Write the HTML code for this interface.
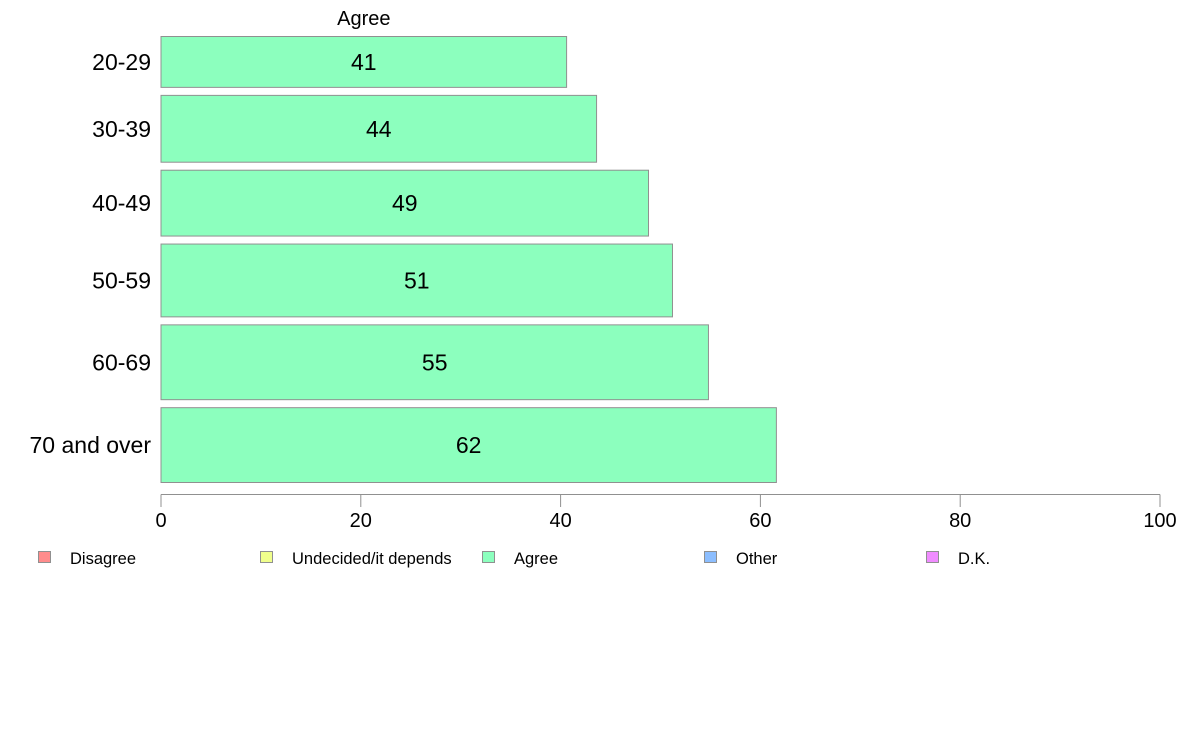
<!DOCTYPE html>
<html><head><meta charset="utf-8"><style>
body{margin:0;background:#fff;width:1188px;height:736px;overflow:hidden;font-family:"Liberation Sans",Arial,sans-serif}
</style></head><body>
<svg id="chart" width="1188" height="736" xmlns="http://www.w3.org/2000/svg" font-family="Liberation Sans, Arial, sans-serif"></svg>
<script>
const categories=["20-29","30-39","40-49","50-59","60-69","70 and over"];
const values=[40.6,43.6,48.8,51.2,54.8,61.6];
const labels=["41","44","49","51","55","62"];
const weights=[51,67,66,73,75,75];
const ticks=[0,20,40,60,80,100];
const legendItems=["Disagree","Undecided/it depends","Agree","Other","D.K."];
const legendColors=["#ff8c8c","#f0ff8c","#8cffbe","#8cbeff","#f08cff"];
const NS="http://www.w3.org/2000/svg";
const svg=document.getElementById("chart");
function x(v){return 161+v*(1160-161)/100;}
const top0=36.5,gap=8,bottom=482.5;
const totalW=weights.reduce((a,b)=>a+b,0);
const scaleH=(bottom-top0-gap*(weights.length-1))/totalW;
function mk(tag,attrs,txt){const e=document.createElementNS(NS,tag);for(const k in attrs)e.setAttribute(k,attrs[k]);if(txt!==undefined)e.textContent=txt;svg.appendChild(e);return e;}
let y=top0;
categories.forEach((c,i)=>{
  const h=weights[i]*scaleH;
  const r=mk("rect",{x:x(0),y:y,width:x(values[i])-x(0),height:h,fill:"#8cffbe",stroke:"#909090","stroke-width":1});
  
  
  const t=mk("text",{x:(x(0)+x(values[i]))/2,y:y+h/2+8,"text-anchor":"middle","font-size":23,fill:"#000"},labels[i]);
  
  
  const cl=mk("text",{x:151,y:y+h/2+8,"text-anchor":"end","font-size":23,fill:"#000"},c);
  
  
  if(i===0){
    const a=mk("text",{x:(x(0)+x(values[0]))/2,y:25,"text-anchor":"middle","font-size":20,fill:"#000"},"Agree");
    
    
  }
  y+=h+gap;
});
const ax=mk("line",{x1:x(0),x2:x(100),y1:494.5,y2:494.5,stroke:"#909090","stroke-width":1});


ticks.forEach(t=>{
  const l=mk("line",{x1:x(t),x2:x(t),y1:494.5,y2:507,stroke:"#909090","stroke-width":1});
  
  
  const tx=mk("text",{x:x(t),y:527,"text-anchor":"middle","font-size":20,fill:"#000"},String(t));
  
  
});
legendItems.forEach((n,i)=>{
  const lx=38+i*222;
  const s=mk("rect",{x:lx+0.5,y:551.5,width:12,height:11,fill:legendColors[i],stroke:"#909090","stroke-width":1});
  
  
  const t=mk("text",{x:lx+32,y:564,"font-size":16.5,fill:"#000"},n);
  
  
});
</script>
</body></html>
